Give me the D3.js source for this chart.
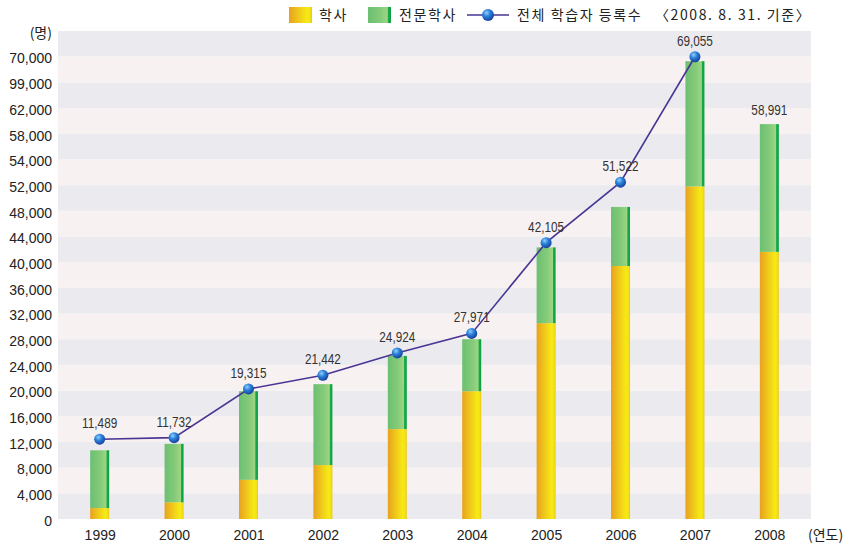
<!DOCTYPE html>
<html>
<head>
<meta charset="utf-8">
<script src="https://cdn.jsdelivr.net/npm/d3@7"></script>
<style>
    body { margin: 0; background: #fff; }
    svg { display: block; }
    .tick text { font-family: "Liberation Sans", Arial, sans-serif; font-size: 14px; fill: #222; }
    .kr { font-family: "Noto Sans CJK KR", sans-serif; font-size: 14px; fill: #222; }
    .legend .kr { letter-spacing: 1.6px; }
    .val { font-family: "Liberation Sans", Arial, sans-serif; font-size: 14px; fill: #333; }
</style>
</head>
<body>
<svg id="chart"></svg>
<script>
// 학점은행제 학습자 등록 현황 (2008. 8. 31. 기준)
const WIDTH = 853;
const HEIGHT = 546;

const years = ['1999', '2000', '2001', '2002', '2003', '2004', '2005', '2006', '2007', '2008'];
// stacked bars
const bachelor = [1700, 2600, 6100, 8400, 14000, 19900, 30500, 39400, 51800, 41600];
const associate = [9000, 9100, 13800, 12600, 11400, 8100, 11800, 9200, 17500, 17900];
// labelled totals (line runs to 2007 only)
const totals = [11489, 11732, 19315, 21442, 24924, 27971, 42105, 51522, 69055, 58991];
const lineYears = ['1999', '2000', '2001', '2002', '2003', '2004', '2005', '2006', '2007'];

// the printed axis is not evenly stepped at the top, ticks kept as printed
const tickValues = [0, 4000, 8000, 12000, 16000, 20000, 24000, 28000, 32000, 36000, 40000,
    44000, 48000, 52000, 54000, 58000, 62000, 66000, 70000];
const tickLabels = ['0', '4,000', '8,000', '12,000', '16,000', '20,000', '24,000', '28,000',
    '32,000', '36,000', '40,000', '44,000', '48,000', '52,000', '54,000', '58,000', '62,000',
    '99,000', '70,000'];

const margin = { top: 31, right: 42, bottom: 27, left: 58 };
const plotW = WIDTH - margin.left - margin.right;
const plotH = HEIGHT - margin.top - margin.bottom;

const svg = d3.select('#chart').attr('width', WIDTH).attr('height', HEIGHT);
const defs = svg.append('defs');

function hGradient(id, stops) {
    const g = defs.append('linearGradient').attr('id', id)
        .attr('x1', '0%').attr('x2', '100%').attr('y1', '0%').attr('y2', '0%');
    stops.forEach(s => g.append('stop').attr('offset', s[0]).attr('stop-color', s[1]));
}
hGradient('gYellow', [['0%', '#e8a11f'], ['45%', '#f0cb1b'], ['80%', '#f6ea14'], ['92%', '#f3e015'], ['100%', '#e9c51a']]);
hGradient('gGreen', [['0%', '#6cbf72'], ['55%', '#85cb79'], ['84%', '#9dd583'], ['88%', '#1aac4c'], ['100%', '#0b9e40']]);

const ball = defs.append('radialGradient').attr('id', 'gBall')
    .attr('cx', '38%').attr('cy', '32%').attr('r', '70%');
ball.append('stop').attr('offset', '0%').attr('stop-color', '#8fd0ff');
ball.append('stop').attr('offset', '45%').attr('stop-color', '#2a7fd8');
ball.append('stop').attr('offset', '100%').attr('stop-color', '#163f9a');

const g = svg.append('g').attr('transform', `translate(${margin.left},${margin.top})`);

// one band per tick step, plus one above the last tick
const idx = d3.scaleLinear().domain([0, tickValues.length]).range([plotH, 0]);
const y = d3.scaleLinear().domain(tickValues).range(tickValues.map((d, i) => idx(i)));

const x = d3.scalePoint().domain(years).range([0, plotW]).padding(0.56);
const BAR_W = 19;

g.append('g').selectAll('rect')
    .data(d3.range(tickValues.length))
    .join('rect')
    .attr('x', 0)
    .attr('width', plotW)
    .attr('y', i => idx(i + 1))
    .attr('height', i => idx(i) - idx(i + 1))
    .attr('fill', i => i % 2 === 0 ? '#ebebef' : '#f7f1f1');

// y axis
const yAxis = g.append('g')
    .call(d3.axisLeft(y).tickValues(tickValues).tickFormat((d, i) => tickLabels[i])
        .tickSize(0).tickPadding(6));
yAxis.select('.domain').remove();
yAxis.selectAll('text').attr('dy', '0.45em');

// x axis
const xAxis = g.append('g')
    .attr('transform', `translate(0,${plotH})`)
    .call(d3.axisBottom(x).tickSize(0).tickPadding(11));
xAxis.select('.domain').remove();

svg.append('text').attr('class', 'kr')
    .attr('x', 52).attr('y', 38).attr('text-anchor', 'end').text('(명)');
svg.append('text').attr('class', 'kr')
    .attr('x', 808).attr('y', 540).text('(연도)');

// stacked bars
const rows = years.map((yr, i) => ({ year: yr, b: bachelor[i], a: associate[i], total: totals[i] }));

const bars = g.append('g').selectAll('g')
    .data(rows)
    .join('g')
    .attr('transform', d => `translate(${x(d.year) - BAR_W / 2},0)`);

bars.append('rect')
    .attr('width', BAR_W)
    .attr('y', d => y(d.b))
    .attr('height', d => y(0) - y(d.b))
    .attr('fill', 'url(#gYellow)');

bars.append('rect')
    .attr('width', BAR_W)
    .attr('y', d => y(d.b + d.a))
    .attr('height', d => y(d.b) - y(d.b + d.a))
    .attr('fill', 'url(#gGreen)');

// total line, drawn a little above the value like the original
const LIFT = 6;
const linePts = rows.filter(d => lineYears.includes(d.year));

g.append('path')
    .datum(linePts)
    .attr('fill', 'none')
    .attr('stroke', '#4a3594')
    .attr('stroke-width', 1.6)
    .attr('d', d3.line().x(d => x(d.year)).y(d => y(d.total) - LIFT));

g.append('g').selectAll('circle')
    .data(linePts)
    .join('circle')
    .attr('cx', d => x(d.year))
    .attr('cy', d => y(d.total) - LIFT)
    .attr('r', 5.5)
    .attr('fill', 'url(#gBall)');

// value labels, set narrow like the condensed face of the original
g.append('g').selectAll('text')
    .data(rows)
    .join('text')
    .attr('class', 'val')
    .attr('text-anchor', 'middle')
    .attr('x', d => x(d.year))
    .attr('y', d => lineYears.includes(d.year)
        ? y(d.total) - LIFT - 11
        : y(d.b + d.a) - 9)
    .text(d => d3.format(',')(d.total))
    .each(function () {
        const w = this.getComputedTextLength();
        d3.select(this).attr('textLength', w * 0.84).attr('lengthAdjust', 'spacingAndGlyphs');
    });

// legend
const lg = svg.append('g').attr('class', 'legend').attr('transform', 'translate(0,15)');
lg.append('rect').attr('x', 289).attr('y', -8).attr('width', 23).attr('height', 16).attr('fill', 'url(#gYellow)');
lg.append('text').attr('class', 'kr').attr('x', 319).attr('y', 5).text('학사');
lg.append('rect').attr('x', 368).attr('y', -8).attr('width', 23).attr('height', 16).attr('fill', 'url(#gGreen)');
lg.append('text').attr('class', 'kr').attr('x', 399).attr('y', 5).text('전문학사');
lg.append('line').attr('x1', 467).attr('x2', 509).attr('y1', 0).attr('y2', 0)
    .attr('stroke', '#4a3594').attr('stroke-width', 1.6);
lg.append('circle').attr('cx', 488).attr('cy', 0).attr('r', 6).attr('fill', 'url(#gBall)');
lg.append('text').attr('class', 'kr').attr('x', 517).attr('y', 5).text('전체  학습자  등록수');
lg.append('text').attr('class', 'kr').attr('x', 655).attr('y', 5).text('〈2008.  8.  31.  기준〉');
</script>
</body>
</html>
